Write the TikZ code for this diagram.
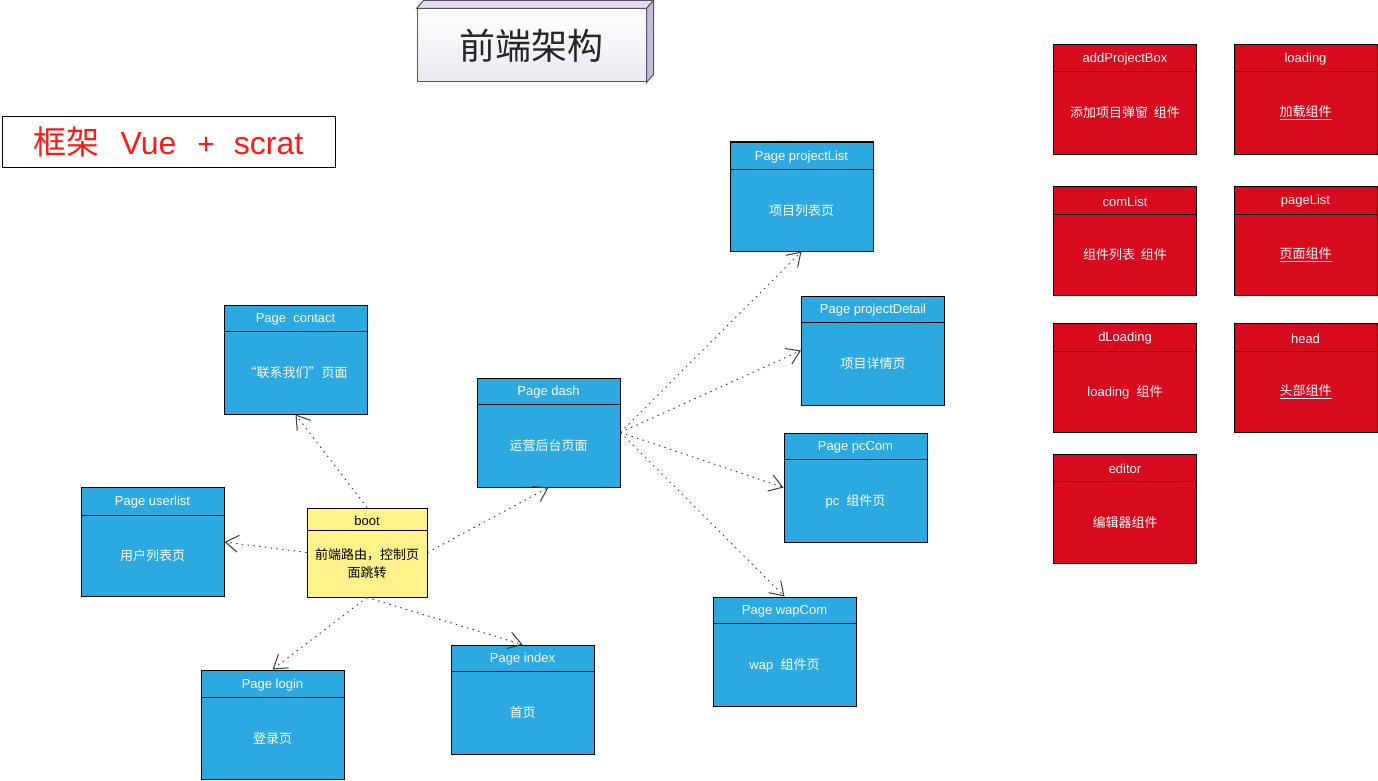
\documentclass[tikz,border=0pt]{standalone}
\usepackage{fontspec}
\setmainfont{Liberation Sans}
\newfontfamily\cjk{Noto Sans CJK SC}
\usetikzlibrary{arrows.meta, calc}
\definecolor{cblue}{HTML}{2DA9E1}
\definecolor{cred}{HTML}{D70A1E}
\definecolor{cyellow}{HTML}{FFF28A}
\definecolor{cframe}{HTML}{FF1A1A}
\definecolor{cline}{HTML}{3A3A3A}
\definecolor{cedge}{HTML}{5A4E6E}
\definecolor{cside}{HTML}{C3BBD3}
\definecolor{ctop}{HTML}{E2DEEA}
\tikzset{
  every picture/.style={font=\fontsize{13}{18}\selectfont, line width=1pt},
  card/.style={draw=black, fill=#1, minimum width=143pt, minimum height=109pt, inner sep=0pt},
  card/.default=cblue,
  cardtext/.style={text=white, align=center, inner sep=1pt},
  arrow/.style={-{Straight Barb[length=13pt, width=17pt]}, draw=cline, line width=1pt, dash pattern=on 1.4pt off 4.4pt},
}
% box with a header strip: style, name, position, header height, title, body
\newcommand{\card}[6]{%
  \node[#1] (#2) at (#3) {};
  \draw ($(#2.north west)+(0,#4)$) -- ($(#2.north east)+(0,#4)$);
  \node[cardtext] at ($(#2.north)+(0,#4/2+1.5)$) {#5};
  \node[cardtext] at ($(#2.center)+(0,#4/2)$) {#6};
}

\begin{document}
\begin{tikzpicture}[x=1pt, y=-1pt]
  \useasboundingbox (0,0) rectangle (1378,781);

  % title block
  \node[draw=cedge, top color=white, bottom color=ctop!70, minimum width=229pt, minimum height=73pt,
        font=\cjk\fontsize{36}{40}\selectfont, text=black!85] (title) at (531.5,45.5) {前端架构};
  \draw[cedge, fill=ctop] (title.north west) -- ++(7,-8) -- ($(title.north east)+(7,-8)$) -- (title.north east) -- cycle;
  \draw[cedge, fill=cside] (title.north east) -- ++(7,-8) -- ($(title.south east)+(7,-8)$) -- (title.south east) -- cycle;

  \node[draw=black, minimum width=333pt, minimum height=50pt, text=cframe, font=\fontsize{32}{36}\selectfont] (frame) at (168.5,142)
    {{\cjk\fontsize{33}{36}\selectfont 框架}\hspace{21pt}Vue\hspace{21pt}{\fontsize{30}{30}\selectfont +}\hspace{19pt}scrat};

  % pages
  \card{card}{contact}{295.5,359.5}{27}{Page\ \ contact}{\cjk “联系我们”页面}
  \card{card}{userlist}{152.5,542}{28}{Page userlist}{\cjk 用户列表页}
  \card{card}{login}{272.5,724.5}{28}{Page login}{\cjk 登录页}
  \card{card}{index}{522.5,699.5}{27}{Page index}{\cjk 首页}
  \card{card}{dash}{548.5,432.5}{27}{Page dash}{\cjk 运营后台页面}
  \card{card}{projectList}{801.5,196.5}{28}{Page projectList}{\cjk 项目列表页}
  \card{card}{projectDetail}{873,350.5}{27}{Page projectDetail}{\cjk 项目详情页}
  \card{card}{pcCom}{855.5,487.5}{27}{Page pcCom}{pc\ \ {\cjk 组件页}}
  \card{card}{wapCom}{784.5,651.5}{27}{Page wapCom}{wap\ \ {\cjk 组件页}}

  \begin{scope}[cardtext/.append style={text=black}]
    \card{card=cyellow, minimum width=120pt, minimum height=89pt}{boot}{367,552.5}{23}{boot}{\cjk 前端路由，控制页\\\cjk 面跳转}
  \end{scope}

  % components
  \card{card=cred}{addProjectBox}{1125,99.5}{27}{addProjectBox}{\cjk 添加项目弹窗\ \ 组件}
  \card{card=cred}{loading}{1305.5,99.5}{27}{loading}{\cjk\underline{加载组件}}
  \card{card=cred}{comList}{1125,241}{28}{comList}{\cjk 组件列表\ \ 组件}
  \card{card=cred}{pageList}{1305.5,241}{28}{pageList}{\cjk\underline{页面组件}}
  \card{card=cred}{dLoading}{1125,378}{28}{dLoading}{loading\ \ {\cjk 组件}}
  \card{card=cred}{head}{1305.5,378}{28}{head}{\cjk\underline{头部组件}}
  \card{card=cred}{editor}{1125,508.5}{28}{editor}{\cjk 编辑器组件}

  % routes
  \draw[arrow] (boot.north) -- (contact.south);
  \draw[arrow] (boot.west) -- (userlist.east);
  \draw[arrow] (boot.east) -- (dash.south);
  \draw[arrow] (boot.south) -- (login.north);
  \draw[arrow] (boot.south) -- (index.north);
  \draw[arrow] (dash.east) -- (projectList.south);
  \draw[arrow] (dash.east) -- (projectDetail.west);
  \draw[arrow] (dash.east) -- (pcCom.west);
  \draw[arrow] (dash.east) -- (wapCom.north);
\end{tikzpicture}
\end{document}
